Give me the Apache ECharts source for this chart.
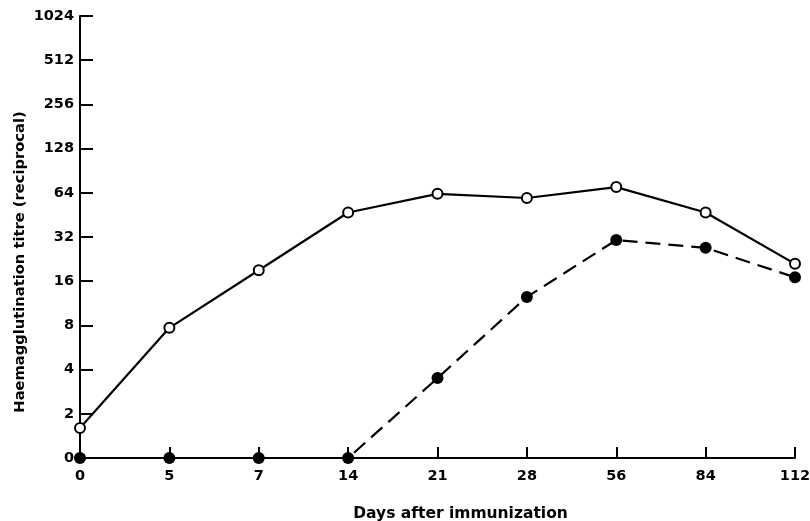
<!DOCTYPE html>
<html>
<head>
<meta charset="utf-8">
<script src="https://cdn.jsdelivr.net/npm/echarts@6/dist/echarts.min.js"></script>
<style>html,body{margin:0;padding:0;background:#fff;}#c{width:810px;height:521px;}</style>
</head>
<body>
<div id="c"></div>
<script>
// Data
const days = ['0', '5', '7', '14', '21', '28', '56', '84', '112'];
const openTitre = [1.6, 7.7, 19, 47, 63, 59, 70, 47, 21];      // open circles, solid line
const filledTitre = [0, 0, 0, 0, 3.5, 12.5, 30.5, 27, 17];      // filled circles, dashed line
const yTickLabels = ['0', '2', '4', '8', '16', '32', '64', '128', '256', '512', '1024'];

// titre -> position on the doubling-dilution axis ("0" sits at the bottom step)
const toPos = t => (t <= 1 ? 0 : Math.log2(t));

const font = 'DejaVu Sans';
const chart = echarts.init(document.getElementById('c'), null, { renderer: 'canvas' });
chart.setOption({
  backgroundColor: '#fff',
  animation: false,
  grid: { left: 80, right: 15, top: 16, bottom: 63, containLabel: false, outerBoundsMode: 'none' },
  xAxis: {
    type: 'category',
    data: days,
    boundaryGap: false,
    name: 'Days after immunization',
    nameLocation: 'middle',
    nameGap: 48,
    nameMoveOverlap: false,
    nameTextStyle: { fontFamily: font, fontSize: 15.5, fontWeight: 'bold', color: '#000', padding: [0, 0, 0, 46] },
    axisLine: { lineStyle: { color: '#000', width: 2 } },
    axisTick: { inside: true, length: 11, lineStyle: { color: '#000', width: 2 } },
    axisLabel: { fontFamily: font, fontSize: 14.5, fontWeight: 'bold', color: '#000', margin: 11 },
    splitLine: { show: false }
  },
  yAxis: {
    type: 'value',
    min: 0,
    max: 10,
    interval: 1,
    name: 'Haemagglutination titre (reciprocal)',
    nameLocation: 'middle',
    nameGap: 52,
    nameRotate: 90,
    nameMoveOverlap: false,
    nameTextStyle: { fontFamily: font, fontSize: 14.7, fontWeight: 'bold', color: '#000', padding: [0, 50, 0, 0] },
    axisLine: { show: true, lineStyle: { color: '#000', width: 2 } },
    axisTick: { show: true, inside: true, length: 13, lineStyle: { color: '#000', width: 2 } },
    axisLabel: {
      fontFamily: font, fontSize: 14.5, fontWeight: 'bold', color: '#000', margin: 6,
      formatter: v => yTickLabels[Math.round(v)] || ''
    },
    splitLine: { show: false }
  },
  series: [
    {
      type: 'line',
      data: openTitre.map(toPos),
      symbol: 'emptyCircle',
      symbolSize: 10,
      lineStyle: { color: '#000', width: 2.2 },
      itemStyle: { color: '#000', borderColor: '#000', borderWidth: 2 },
      z: 3
    },
    {
      type: 'line',
      data: filledTitre.map(toPos),
      symbol: 'circle',
      symbolSize: 12,
      lineStyle: { color: '#000', width: 2.2, type: [15, 8] },
      itemStyle: { color: '#000' },
      z: 2
    }
  ]
});
</script>
</body>
</html>
